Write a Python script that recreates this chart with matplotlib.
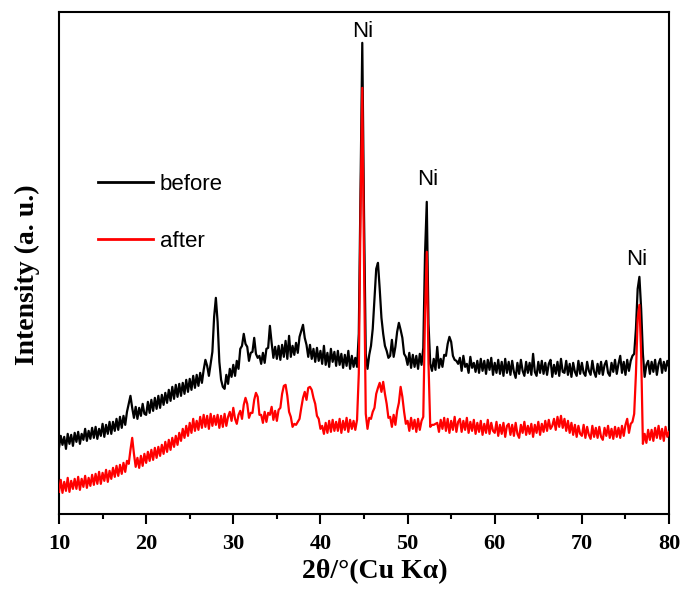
import numpy as np
import matplotlib
matplotlib.use("Agg")
import matplotlib.pyplot as plt

# scan grid: 10 to 80 degrees, step 0.2
two_theta = np.round(np.arange(10.0, 80.01, 0.2), 1)

# intensities (arbitrary units)
before = [
    66, 78, 69, 77, 65, 80, 70, 79, 68, 81,
    72, 82, 70, 80, 74, 85, 73, 83, 75, 86,
    76, 87, 75, 85, 78, 90, 77, 89, 80, 92,
    80, 92, 83, 95, 84, 97, 86, 98, 89, 102,
    110, 118, 106, 96, 107, 95, 106, 98, 110, 100,
    99, 112, 101, 114, 103, 116, 105, 118, 106, 119,
    109, 121, 111, 124, 113, 127, 115, 129, 117, 130,
    118, 131, 120, 134, 122, 135, 124, 138, 126, 139,
    128, 141, 131, 144, 154, 148, 138, 150, 162, 197,
    216, 192, 152, 134, 127, 125, 139, 130, 145, 137,
    149, 138, 153, 145, 165, 168, 180, 170, 167, 153,
    161, 162, 176, 160, 156, 158, 150, 161, 151, 165,
    166, 188, 171, 156, 167, 155, 168, 154, 169, 157,
    173, 155, 178, 157, 168, 159, 171, 161, 177, 183,
    189, 176, 169, 157, 169, 155, 165, 152, 166, 153,
    163, 150, 168, 149, 161, 147, 165, 152, 162, 148,
    163, 149, 160, 146, 159, 148, 163, 145, 158, 147,
    156, 147, 180, 330, 471, 300, 160, 145, 159, 168,
    185, 215, 245, 251, 225, 196, 180, 168, 163, 156,
    158, 174, 157, 167, 182, 191, 184, 176, 160, 157,
    149, 161, 146, 159, 147, 158, 145, 160, 149, 166,
    260, 312, 190, 150, 143, 155, 144, 167, 146, 155,
    147, 159, 158, 170, 177, 172, 158, 154, 153, 150,
    156, 143, 158, 147, 150, 141, 157, 146, 151, 142,
    153, 141, 155, 143, 153, 140, 154, 144, 156, 139,
    151, 141, 154, 140, 152, 138, 155, 141, 152, 139,
    153, 142, 136, 151, 140, 154, 143, 138, 152, 141,
    151, 139, 160, 142, 138, 152, 141, 153, 140, 151,
    139, 150, 154, 137, 149, 140, 152, 138, 155, 142,
    141, 153, 139, 150, 137, 151, 142, 138, 153, 140,
    151, 141, 138, 152, 143, 139, 153, 142, 137, 150,
    140, 152, 139, 149, 153, 141, 138, 151, 142, 154,
    140, 150, 158, 141, 152, 139, 154, 143, 153, 158,
    160, 185, 225, 237, 205, 160, 137, 149, 153, 140,
    152, 142, 154, 139, 150, 155, 141, 152, 143, 153,
    147,
]

after = [
    22, 34, 21, 32, 23, 36, 22, 33, 25, 35,
    25, 37, 24, 35, 27, 38, 26, 36, 28, 39,
    29, 40, 30, 42, 30, 41, 33, 44, 32, 43,
    35, 46, 37, 48, 38, 49, 40, 51, 42, 53,
    50, 64, 76, 60, 47, 56, 46, 58, 48, 60,
    51, 62, 53, 64, 54, 66, 56, 67, 58, 69,
    60, 72, 62, 74, 64, 76, 67, 78, 69, 81,
    73, 85, 76, 88, 78, 91, 81, 95, 83, 93,
    84, 97, 86, 99, 87, 98, 85, 100, 88, 98,
    89, 99, 86, 98, 87, 100, 88, 97, 102, 93,
    106, 95, 90, 99, 103, 95, 109, 116, 110, 96,
    101, 101, 114, 121, 117, 99, 99, 91, 102, 92,
    101, 99, 107, 94, 103, 93, 104, 106, 120, 128,
    129, 118, 102, 97, 87, 90, 89, 92, 95, 106,
    116, 122, 114, 126, 127, 124, 116, 110, 98, 95,
    85, 88, 80, 91, 81, 93, 82, 94, 83, 92,
    83, 95, 81, 93, 84, 96, 82, 94, 85, 93,
    84, 94, 140, 300, 426, 250, 100, 85, 96, 95,
    102, 106, 120, 126, 131, 122, 132, 120, 110, 96,
    97, 87, 99, 89, 103, 111, 127, 117, 102, 90,
    93, 83, 96, 85, 94, 82, 95, 84, 93, 97,
    200, 262, 150, 87, 89, 89, 90, 91, 82, 94,
    85, 96, 83, 95, 81, 93, 84, 97, 82, 92,
    95, 82, 93, 84, 96, 81, 92, 83, 94, 80,
    91, 82, 93, 79, 90, 81, 94, 80, 91, 83,
    81, 92, 78, 89, 80, 91, 77, 88, 90, 79,
    89, 78, 91, 80, 76, 89, 81, 92, 79, 88,
    80, 90, 77, 89, 81, 92, 79, 90, 82, 93,
    83, 94, 85, 88, 95, 84, 97, 87, 98, 86,
    95, 83, 93, 81, 91, 79, 89, 77, 88, 80,
    78, 89, 76, 87, 79, 75, 88, 77, 86, 76,
    87, 77, 74, 86, 78, 88, 76, 85, 75, 87,
    77, 86, 76, 88, 78, 89, 95, 81, 90, 92,
    100, 140, 195, 209, 160, 70, 80, 71, 84, 74,
    84, 73, 86, 76, 88, 75, 85, 73, 87, 77,
    82,
]

# Ni reflection labels (x, y)
ni_x = [44.89, 52.29, 76.33]
ni_y = [477, 329, 249]

serif = ['Liberation Serif', 'DejaVu Serif']
sans = ['Liberation Sans', 'DejaVu Sans']

fig = plt.figure(figsize=(6.82, 5.92), dpi=100)
ax = fig.add_axes([0.0865, 0.132, 0.8945, 0.848])

ax.plot(two_theta, before, color='black', lw=1.6, label='before', zorder=2)
ax.plot(two_theta, after, color='red', lw=1.6, label='after', zorder=3)

for x, y in zip(ni_x, ni_y):
    ax.text(x, y, 'Ni', ha='center', va='baseline', fontsize=16, family=sans)

ax.set_xlim(10, 80)
ax.set_ylim(0, 502)
ax.set_xticks(np.arange(10, 81, 10))
ax.set_xticks(np.arange(15, 80, 10), minor=True)
ax.set_yticks([])
ax.tick_params(axis='x', which='major', direction='out', length=7, width=1.5, pad=7.5)
ax.tick_params(axis='x', which='minor', direction='out', length=3.5, width=1.5)
for lab in ax.get_xticklabels():
    lab.set_family(serif)
    lab.set_fontweight('bold')
    lab.set_fontsize(16)
for sp in ax.spines.values():
    sp.set_linewidth(1.5)

ax.set_xlabel('2θ/°(Cu Kα)', family=serif, fontweight='bold', fontsize=20, labelpad=4)
ax.set_ylabel('Intensity (a. u.)', family=serif, fontweight='bold', fontsize=20, labelpad=14)
ax.xaxis.label.set_x(0.517)
ax.yaxis.label.set_y(0.477)

leg = ax.legend(loc='upper left', bbox_to_anchor=(0.045, 0.70), frameon=False,
                prop={'family': sans, 'size': 16}, handlelength=2.5,
                handletextpad=0.3, labelspacing=1.65, borderpad=0)
for h in leg.get_lines():
    h.set_linewidth(2)

fig.savefig('out.png', dpi=100)
